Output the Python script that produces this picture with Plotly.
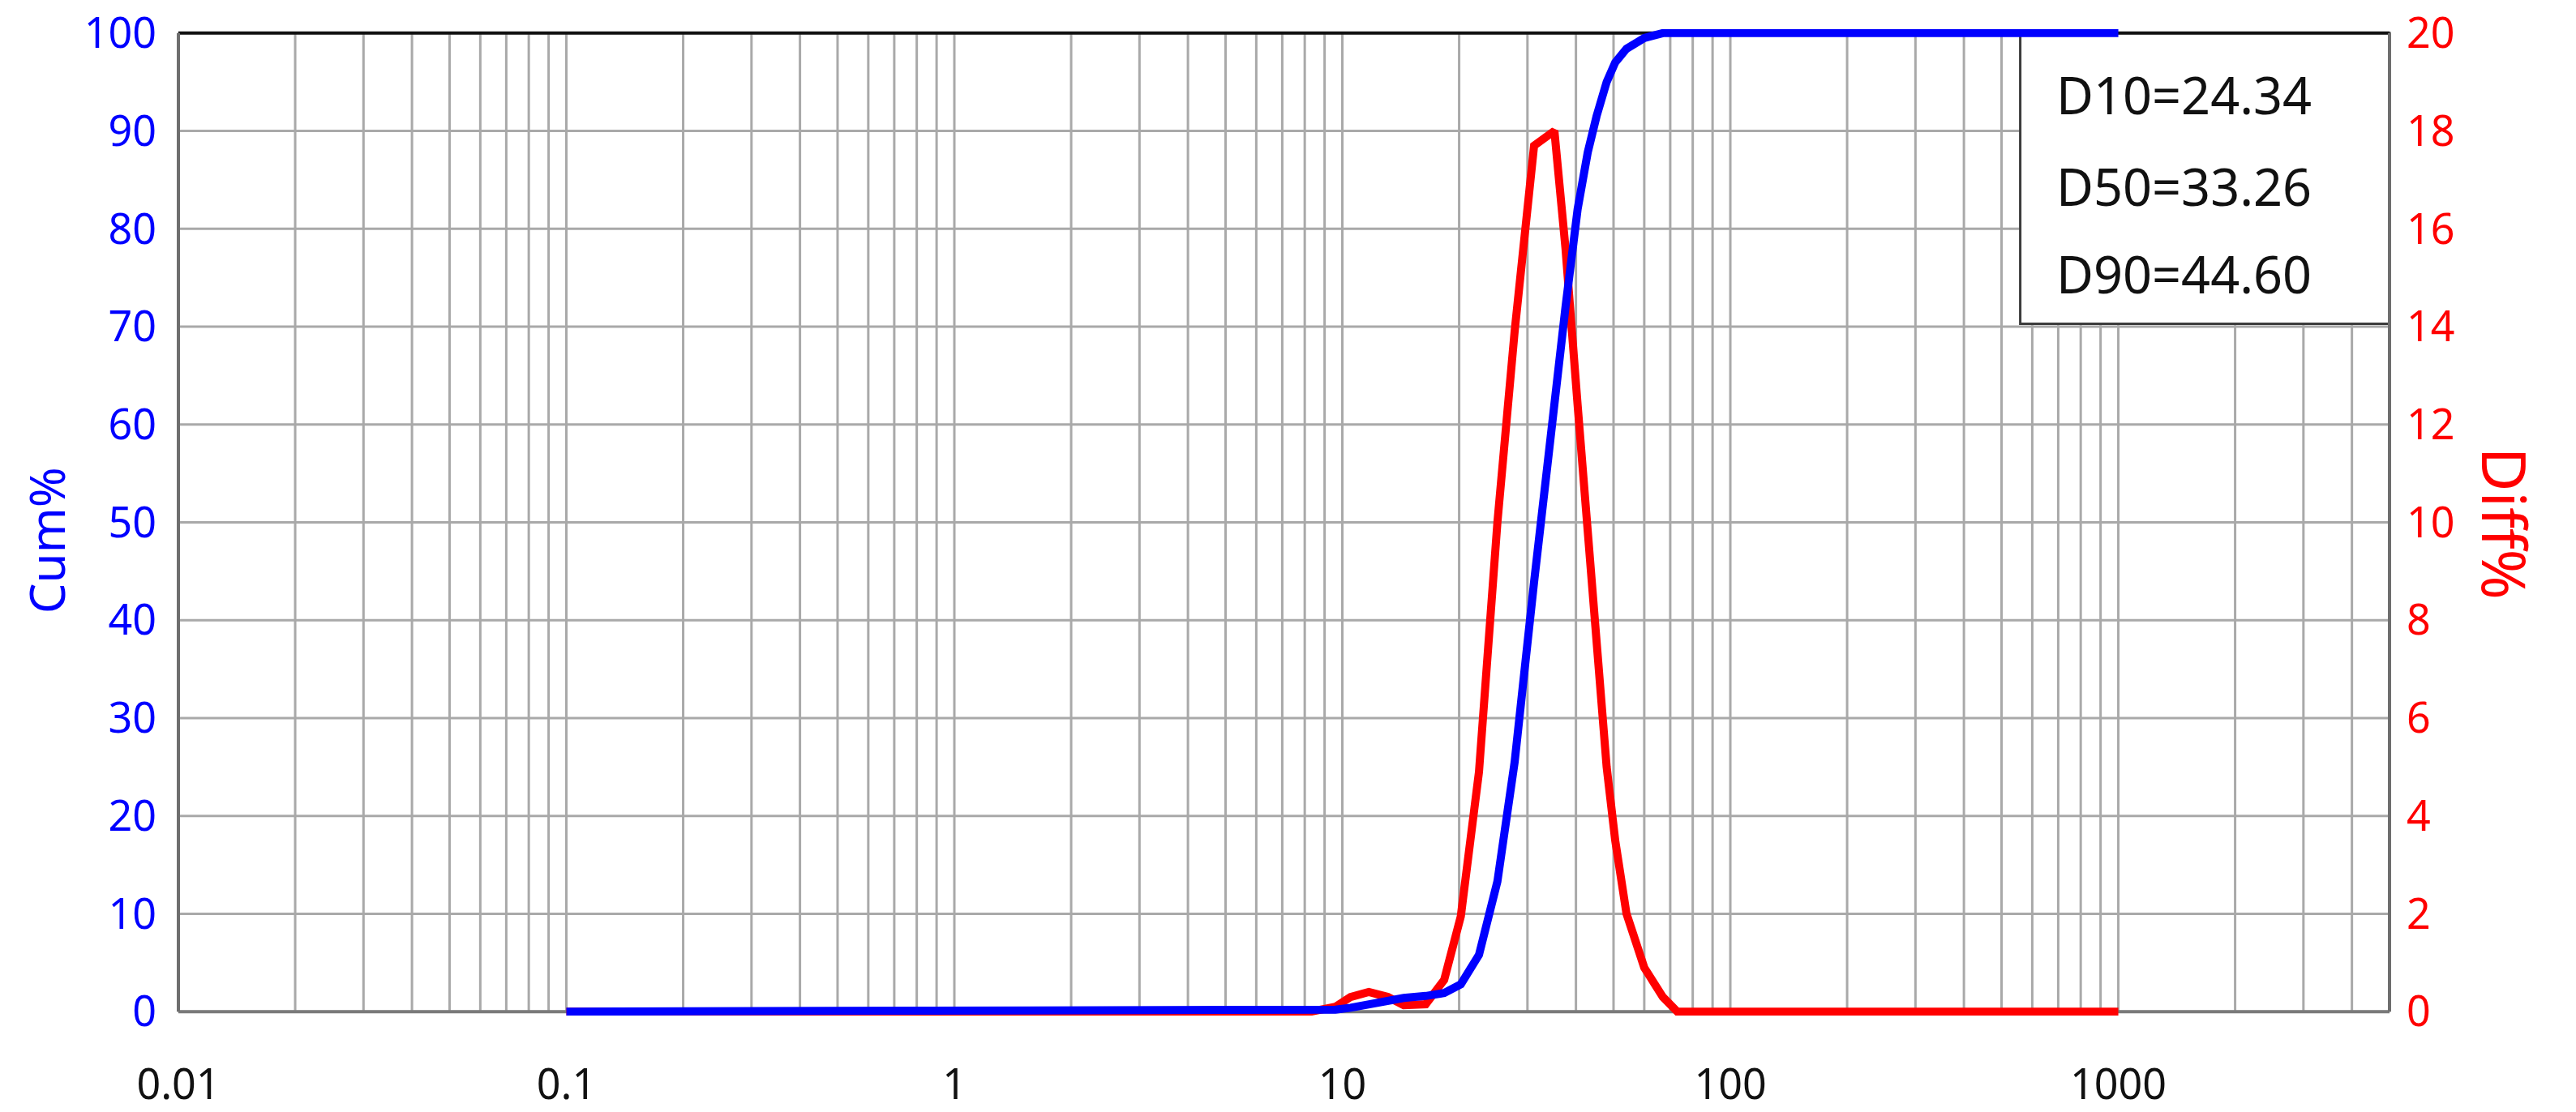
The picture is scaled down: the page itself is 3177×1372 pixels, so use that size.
import math
import plotly.graph_objects as go

# particle size (um) and the two curves
sizes = [0.1, 8.3, 9.6, 10.5, 11.7, 13.1, 14.4, 16.4, 18.3, 20.2, 22.5, 25.1, 27.8,
         31.2, 35.2, 37.6, 40.4, 42.9, 45.2, 48.0, 50.5, 54.0, 60.0, 67.0, 73.0, 1000]
cum_pct = [0, 0, 0.2, 0.4, 0.8, 1.2, 1.4, 1.6, 1.9, 2.8, 5.8, 13.3, 25.5,
           43.9, 63.2, 72.0, 82.0, 87.8, 91.5, 95.0, 97.0, 98.4, 99.5, 100, 100, 100]
diff_pct = [0, 0, 0.1, 0.3, 0.4, 0.3, 0.13, 0.15, 0.65, 1.95, 4.9, 10.0, 13.9,
            17.7, 18.0, 15.6, 12.4, 9.8, 7.6, 5.0, 3.5, 2.0, 0.9, 0.3, 0, 0]

decades = [0.01, 0.1, 1, 10, 100, 1000]
decade_labels = ["0.01", "0.1", "1", "10", "100", "1000"]
x_max = 5000
cum_ticks = list(range(0, 101, 10))
diff_ticks = list(range(0, 21, 2))
stats_text = ["D10=24.34", "D50=33.26", "D90=44.60"]
stats_y = [93.7, 84.4, 75.4]   # where each line sits, in Cum% units

# log grid: 1..9 in every decade
grid_vals, grid_text = [], []
for d, lab in zip(decades, decade_labels):
    for m in range(1, 10):
        v = round(d * m, 6)
        if v <= x_max:
            grid_vals.append(v)
            grid_text.append(lab if m == 1 else "")

lo, hi = math.log10(decades[0]), math.log10(x_max)

def xpaper(v):
    return (math.log10(v) - lo) / (hi - lo)

W, H = 3177, 1372
OFF = 8                        # page body margin
left_px, right_px = 220, 2947
top_px, bot_px = 40.5, 1248.5
pad = 0.4                      # a little room so the thick lines at 0 and 100 are not cut
unit = (bot_px - top_px) / 100
T = round(top_px - pad * unit) - OFF
B = H + OFF - round(bot_px + pad * unit)
L = left_px - OFF
R = W + OFF - right_px

FONT = "Noto Sans"
GRID = "#a9a9a9"
BLUE = "#0000ff"
RED = "#ff0000"
FRAME = "#6e6e6e"

fig = go.Figure()
fig.add_trace(go.Scatter(x=sizes, y=diff_pct, mode="lines", name="Diff%",
                         line=dict(color=RED, width=10), yaxis="y2"))
fig.add_trace(go.Scatter(x=sizes, y=cum_pct, mode="lines", name="Cum%",
                         line=dict(color=BLUE, width=10), yaxis="y3"))

shapes = []
# grid drawn by hand so the stats box and frame can sit on top of it
for v in grid_vals:
    shapes.append(dict(type="line", xref="paper", yref="y", x0=xpaper(v), x1=xpaper(v),
                       y0=0, y1=100, line=dict(color=GRID, width=3), layer="below"))
for t in cum_ticks:
    shapes.append(dict(type="line", xref="paper", yref="y", x0=0, x1=1, y0=t, y1=t,
                       line=dict(color=GRID, width=3), layer="below"))
# stats box
shapes.append(dict(type="rect", xref="paper", yref="y", x0=0.833, x1=1, y0=70.3, y1=100,
                   fillcolor="white", line=dict(color="#3c3c3c", width=3), layer="below"))
# frame
shapes += [
    dict(type="line", xref="paper", yref="y", x0=0, x1=1, y0=0, y1=0,
         line=dict(color="#7a7a7a", width=4), layer="below"),
    dict(type="line", xref="paper", yref="y", x0=0, x1=1, y0=100, y1=100,
         line=dict(color="#111111", width=4), layer="below"),
    dict(type="line", xref="paper", yref="y", x0=0, x1=0, y0=0, y1=100,
         line=dict(color=FRAME, width=4), layer="below"),
    dict(type="line", xref="paper", yref="y", x0=1, x1=1, y0=0, y1=100,
         line=dict(color=FRAME, width=4), layer="below"),
]

annotations = []
for txt, yy in zip(stats_text, stats_y):
    annotations.append(dict(text=txt, xref="paper", yref="y", x=0.8485, y=yy,
                            xanchor="left", yanchor="middle", showarrow=False,
                            font=dict(family=FONT, size=63, color="#111111")))
annotations.append(dict(text="Cum%", xref="paper", yref="paper", x=-0.0598, y=0.482,
                        xanchor="center", yanchor="middle", textangle=-90, showarrow=False,
                        font=dict(family=FONT, size=60, color=BLUE)))
annotations.append(dict(text="Diff%", xref="paper", yref="paper", x=1.0524, y=0.499,
                        xanchor="center", yanchor="middle", textangle=90, showarrow=False,
                        font=dict(family=FONT, size=75, color=RED)))

fig.update_layout(
    width=W, height=H,
    margin=dict(l=L, r=R, t=T, b=B, autoexpand=False),
    paper_bgcolor="white", plot_bgcolor="white",
    showlegend=False,
    font=dict(family=FONT),
    shapes=shapes,
    annotations=annotations,
    xaxis=dict(type="log", range=[lo, hi], automargin=False,
               tickmode="array", tickvals=grid_vals, ticktext=grid_text,
               showgrid=False, zeroline=False, showline=False, ticks="",
               ticklabelstandoff=50, ticklabeloverflow="allow",
               tickfont=dict(family=FONT, size=52, color="#111111")),
    yaxis=dict(range=[-pad, 100 + pad], tickmode="array", tickvals=cum_ticks,
               automargin=False, showgrid=False, zeroline=False,
               showline=False, ticks="", ticklabelstandoff=26,
               ticklabeloverflow="allow",
               tickfont=dict(family=FONT, size=52, color=BLUE)),
    yaxis2=dict(range=[-pad / 5, 20 + pad / 5], tickmode="array", tickvals=diff_ticks,
                overlaying="y", side="right", automargin=False,
                showgrid=False, zeroline=False, showline=False, ticks="",
                ticklabelstandoff=20, ticklabeloverflow="allow",
                tickfont=dict(family=FONT, size=52, color=RED)),
    # same scale as Cum% axis, only there so the blue curve is drawn above the red one
    yaxis3=dict(range=[-pad, 100 + pad], overlaying="y", visible=False),
)

fig.write_html("out.html")
